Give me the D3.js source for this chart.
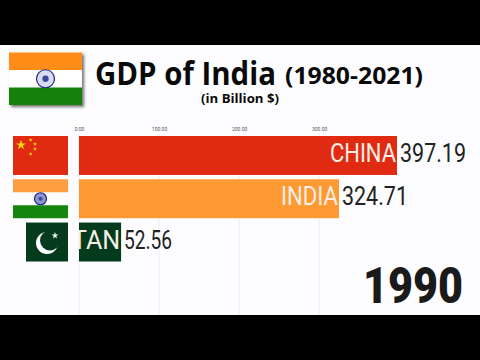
<!DOCTYPE html>
<html>
<head>
<meta charset="utf-8">
<script src="https://cdn.jsdelivr.net/npm/d3@7"></script>
<style>
html, body { margin: 0; padding: 0; background: #fdfdff; }
svg { display: block; }
</style>
</head>
<body>
<script>
var countries = ["CHINA", "INDIA", "PAKISTAN"];
var gdpValues = [397.19, 324.71, 52.56];
var barColors = ["#e02b12", "#ff9933", "#053b1d"];
var axisTicks = [0, 100, 200, 300];
var currentYear = "1990";

function init() {
    var w = 480;
    var h = 360;

    var svg = d3.select("body")
        .append("svg")
        .attr("width", w)
        .attr("height", h);

    var defs = svg.append("defs");
    var shadow = defs.append("filter").attr("id", "shadow")
        .attr("x", "-10%").attr("y", "-10%").attr("width", "125%").attr("height", "130%");
    shadow.append("feDropShadow")
        .attr("dx", 2).attr("dy", 2).attr("stdDeviation", 1.5)
        .attr("flood-color", "#333").attr("flood-opacity", 0.7);

    var xScale = d3.scaleLinear()
        .domain([0, 397.19])
        .range([79, 397]);

    var yScale = d3.scaleBand()
        .domain(countries)
        .range([136, 261.5])
        .paddingInner(0.1);

    // Letterbox bars
    svg.append("rect").attr("width", w).attr("height", 45).attr("fill", "#000");
    svg.append("rect").attr("y", 315).attr("width", w).attr("height", 45).attr("fill", "#000");

    // Title
    svg.append("text").attr("x", 95).attr("y", 85)
        .attr("font-family", "Open Sans").attr("font-weight", 700)
        .attr("font-size", 33).attr("fill", "#0a0a0a")
        .attr("textLength", 181).attr("lengthAdjust", "spacingAndGlyphs")
        .text("GDP of India");
    svg.append("text").attr("x", 285).attr("y", 84)
        .attr("font-family", "Open Sans").attr("font-weight", 700)
        .attr("font-size", 24).attr("fill", "#0a0a0a")
        .attr("textLength", 138).attr("lengthAdjust", "spacingAndGlyphs")
        .text("(1980-2021)");
    svg.append("text").attr("x", 201).attr("y", 103)
        .attr("font-family", "Open Sans").attr("font-weight", 700)
        .attr("font-size", 13).attr("fill", "#0a0a0a")
        .attr("textLength", 78).attr("lengthAdjust", "spacingAndGlyphs")
        .text("(in Billion $)");

    drawIndiaFlag(svg.append("g").attr("filter", "url(#shadow)"), 9, 52.5, 73, 52.5, true);

    // Axis and grid
    var xAxis = d3.axisTop()
        .scale(xScale)
        .tickValues(axisTicks)
        .tickSize(0)
        .tickPadding(0)
        .tickFormat(d3.format(".2f"));

    var axisG = svg.append("g")
        .attr("transform", "translate(0,131)")
        .call(xAxis);
    axisG.select(".domain").remove();
    axisG.selectAll("text")
        .attr("font-family", "Roboto")
        .attr("font-size", 5)
        .attr("fill", "#555");

    svg.selectAll("line.grid")
        .data(axisTicks)
        .enter()
        .append("line")
        .attr("class", "grid")
        .attr("x1", function(d) { return xScale(d); })
        .attr("x2", function(d) { return xScale(d); })
        .attr("y1", 133)
        .attr("y2", 315)
        .attr("stroke", "#eeeef2")
        .attr("stroke-width", 1);

    // Bars
    svg.selectAll("rect.bar")
        .data(countries)
        .enter()
        .append("rect")
        .attr("class", "bar")
        .attr("x", xScale(0))
        .attr("y", function(d) { return yScale(d); })
        .attr("width", function(d, i) { return xScale(gdpValues[i]) - xScale(0); })
        .attr("height", yScale.bandwidth())
        .attr("fill", function(d, i) { return barColors[i]; });

    // Names sit inside the bar, long ones get cut off by it
    countries.forEach(function(d, i) {
        defs.append("clipPath").attr("id", "clip" + i)
            .append("rect")
            .attr("x", xScale(0))
            .attr("y", yScale(d))
            .attr("width", xScale(gdpValues[i]) - xScale(0))
            .attr("height", yScale.bandwidth());
    });

    var nameWidths = [66, 57, 116];
    svg.selectAll("text.name")
        .data(countries)
        .enter()
        .append("text")
        .attr("class", "name")
        .attr("clip-path", function(d, i) { return "url(#clip" + i + ")"; })
        .attr("x", function(d, i) { return xScale(gdpValues[i]) - 1 - nameWidths[i]; })
        .attr("y", function(d) { return yScale(d) + 26; })
        .attr("font-family", "Roboto")
        .attr("font-size", 25)
        .attr("fill", "#f6efe6")
        .attr("textLength", function(d, i) { return nameWidths[i]; })
        .attr("lengthAdjust", "spacingAndGlyphs")
        .text(function(d) { return d; });

    var valueWidths = [66, 66, 48];
    svg.selectAll("text.value")
        .data(gdpValues)
        .enter()
        .append("text")
        .attr("class", "value")
        .attr("x", function(d) { return xScale(d) + 3; })
        .attr("y", function(d, i) { return yScale(countries[i]) + 26; })
        .attr("font-family", "Roboto")
        .attr("font-weight", 400)
        .attr("font-size", 25)
        .attr("fill", "#222")
        .attr("textLength", function(d, i) { return valueWidths[i]; })
        .attr("lengthAdjust", "spacingAndGlyphs")
        .text(function(d) { return d3.format(".2f")(d); });

    // Flags beside the bars
    var flagRight = 68;
    drawChinaFlag(svg.append("g"), 13, yScale("CHINA"), flagRight - 13, yScale.bandwidth());
    drawIndiaFlag(svg.append("g"), 13, yScale("INDIA"), flagRight - 13, yScale.bandwidth(), false);
    drawPakistanFlag(svg.append("g"), 26, yScale("PAKISTAN"), flagRight - 26, yScale.bandwidth());

    // Year
    svg.append("text")
        .attr("x", 463).attr("y", 303)
        .attr("text-anchor", "end")
        .attr("font-family", "Roboto").attr("font-weight", 900)
        .attr("font-size", 50).attr("fill", "#1a1a1a")
        .attr("textLength", 100).attr("lengthAdjust", "spacingAndGlyphs")
        .text(currentYear);
}

function drawIndiaFlag(g, x, y, fw, fh, big) {
    var third = fh / 3;
    g.append("rect").attr("x", x).attr("y", y).attr("width", fw).attr("height", fh)
        .attr("fill", big ? "#fff" : "#fdfdff");
    g.append("rect").attr("x", x).attr("y", y).attr("width", fw).attr("height", third)
        .attr("fill", big ? "#ff8c14" : "#ff9d40");
    g.append("rect").attr("x", x).attr("y", y + 2 * third).attr("width", fw).attr("height", third)
        .attr("fill", big ? "#12800f" : "#14860f");
    var r = big ? 9 : 6;
    var cx = x + fw / 2;
    var cy = y + fh / 2;
    g.append("circle").attr("cx", cx).attr("cy", cy).attr("r", r)
        .attr("fill", big ? "#d8dcee" : "#8f95d0").attr("stroke", "#1d2a80").attr("stroke-width", 1.2);
    g.append("circle").attr("cx", cx).attr("cy", cy).attr("r", r * 0.35).attr("fill", "#3c4a9c");
}

function drawChinaFlag(g, x, y, fw, fh) {
    g.append("rect").attr("x", x).attr("y", y).attr("width", fw).attr("height", fh)
        .attr("fill", "#e02b12");
    var star = d3.symbol().type(d3.symbolStar);
    g.append("path").attr("d", star.size(30)())
        .attr("transform", "translate(" + (x + 8) + "," + (y + 9) + ")")
        .attr("fill", "#fbd90f");
    var small = [[17.7, 4], [22, 8], [22, 13], [17.7, 18]];
    small.forEach(function(p) {
        g.append("path").attr("d", star.size(5)())
            .attr("transform", "translate(" + (x + p[0]) + "," + (y + p[1]) + ")")
            .attr("fill", "#fbd90f");
    });
}

function drawPakistanFlag(g, x, y, fw, fh) {
    g.append("rect").attr("x", x).attr("y", y).attr("width", fw).attr("height", fh)
        .attr("fill", "#053b1d");
    var cx = x + 21;
    var cy = y + 20.5;
    g.append("circle").attr("cx", cx).attr("cy", cy).attr("r", 11).attr("fill", "#fff");
    g.append("circle").attr("cx", cx + 3).attr("cy", cy - 2.5).attr("r", 10).attr("fill", "#053b1d");
    g.append("path").attr("d", d3.symbol().type(d3.symbolStar).size(14)())
        .attr("transform", "translate(" + (x + 29) + "," + (y + 13) + ")")
        .attr("fill", "#fff");
}

window.onload = init;
</script>
</body>
</html>
